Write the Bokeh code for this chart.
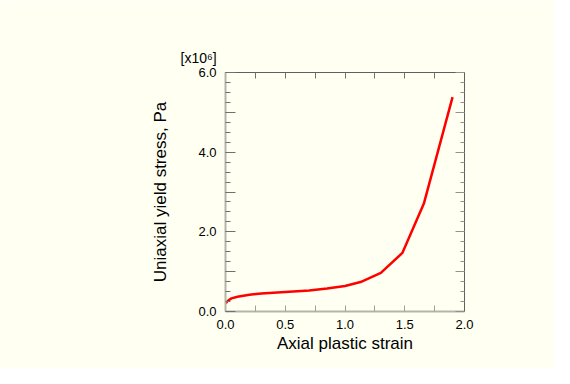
from bokeh.plotting import figure
from bokeh.models import FixedTicker, LinearAxis, Range1d, Title
from bokeh.embed import file_html
from bokeh.resources import INLINE

strain = [0.0, 0.02, 0.05, 0.1, 0.2, 0.3, 0.5, 0.7, 0.85, 1.0, 1.13, 1.3, 1.48, 1.66, 1.9]
stress = [0.20, 0.27, 0.33, 0.37, 0.42, 0.45, 0.49, 0.53, 0.58, 0.64, 0.74, 0.97, 1.47, 2.71, 5.38]

x_major = [0.0, 0.5, 1.0, 1.5, 2.0]
x_minor = [0.25, 0.75, 1.25, 1.75]
y_major = [0.0, 1.0, 2.0, 3.0, 4.0, 5.0, 6.0]
y_minor = [i * 0.25 for i in range(25)]
y_labels = {0.0: "0.0", 1.0: "", 2.0: "2.0", 3.0: "", 4.0: "4.0", 5.0: "", 6.0: "6.0"}
x_labels = {0.0: "0.0", 0.5: "0.5", 1.0: "1.0", 1.5: "1.5", 2.0: "2.0"}
scale_text = "[x10⁶]"

BG = "#fffff2"
FONT = "Liberation Sans"

p = figure(width=554, height=368, output_backend="svg", toolbar_location=None,
           x_range=Range1d(0, 2), y_range=Range1d(0, 6),
           x_axis_location=None, y_axis_location=None,
           min_border_left=225, min_border_right=90, min_border_top=72, min_border_bottom=57)
p.background_fill_color = BG
p.border_fill_color = BG
p.outline_line_color = None
p.grid.visible = False

def style(ax, line_color, line_width, tick_color):
    ax.axis_line_color = line_color
    ax.axis_line_width = line_width
    ax.major_tick_line_color = tick_color
    ax.minor_tick_line_color = tick_color
    ax.major_tick_out = 0
    ax.minor_tick_out = 0
    ax.major_label_text_font = FONT
    ax.major_label_text_font_size = "13px"
    ax.major_label_text_color = "#000000"
    ax.axis_label_text_font = FONT
    ax.axis_label_text_font_size = "17px"
    ax.axis_label_text_font_style = "normal"
    ax.axis_label_text_color = "#000000"

# left
la = LinearAxis(ticker=FixedTicker(ticks=y_major, minor_ticks=y_minor),
                axis_label="Uniaxial yield stress, Pa")
style(la, "#b4b4aa", 2, "#707070")
la.major_label_overrides = y_labels
la.major_tick_in = 10
la.minor_tick_in = 5
la.major_label_standoff = 9
la.axis_label_standoff = 25
p.add_layout(la, "left")

# right
ra = LinearAxis(ticker=FixedTicker(ticks=y_major, minor_ticks=y_minor))
style(ra, "#606060", 1, "#909090")
ra.major_label_overrides = {t: "" for t in y_major}
ra.major_tick_in = 9
ra.minor_tick_in = 4
p.add_layout(ra, "right")

# bottom
ba = LinearAxis(ticker=FixedTicker(ticks=x_major, minor_ticks=x_minor),
                axis_label="Axial plastic strain")
style(ba, "#b4b4aa", 2, "#a0a0a0")
ba.major_label_overrides = x_labels
ba.major_tick_in = 6
ba.minor_tick_in = 6
ba.major_label_standoff = 8
ba.axis_label_standoff = 2
p.add_layout(ba, "below")

# top
ta = LinearAxis(ticker=FixedTicker(ticks=x_major, minor_ticks=x_minor))
style(ta, "#606060", 1, "#707070")
ta.major_label_overrides = {t: "" for t in x_major}
ta.major_tick_in = 6
ta.minor_tick_in = 6
p.add_layout(ta, "above")

p.add_layout(Title(text=scale_text, align="left", offset=-45, text_font=FONT,
                   text_font_size="14px", text_font_style="normal", text_color="#000000",
                   standoff=13), "above")

p.line(strain, stress, line_color="#ff0000", line_width=2.5)

open("out.html", "w").write(file_html(p, INLINE))
